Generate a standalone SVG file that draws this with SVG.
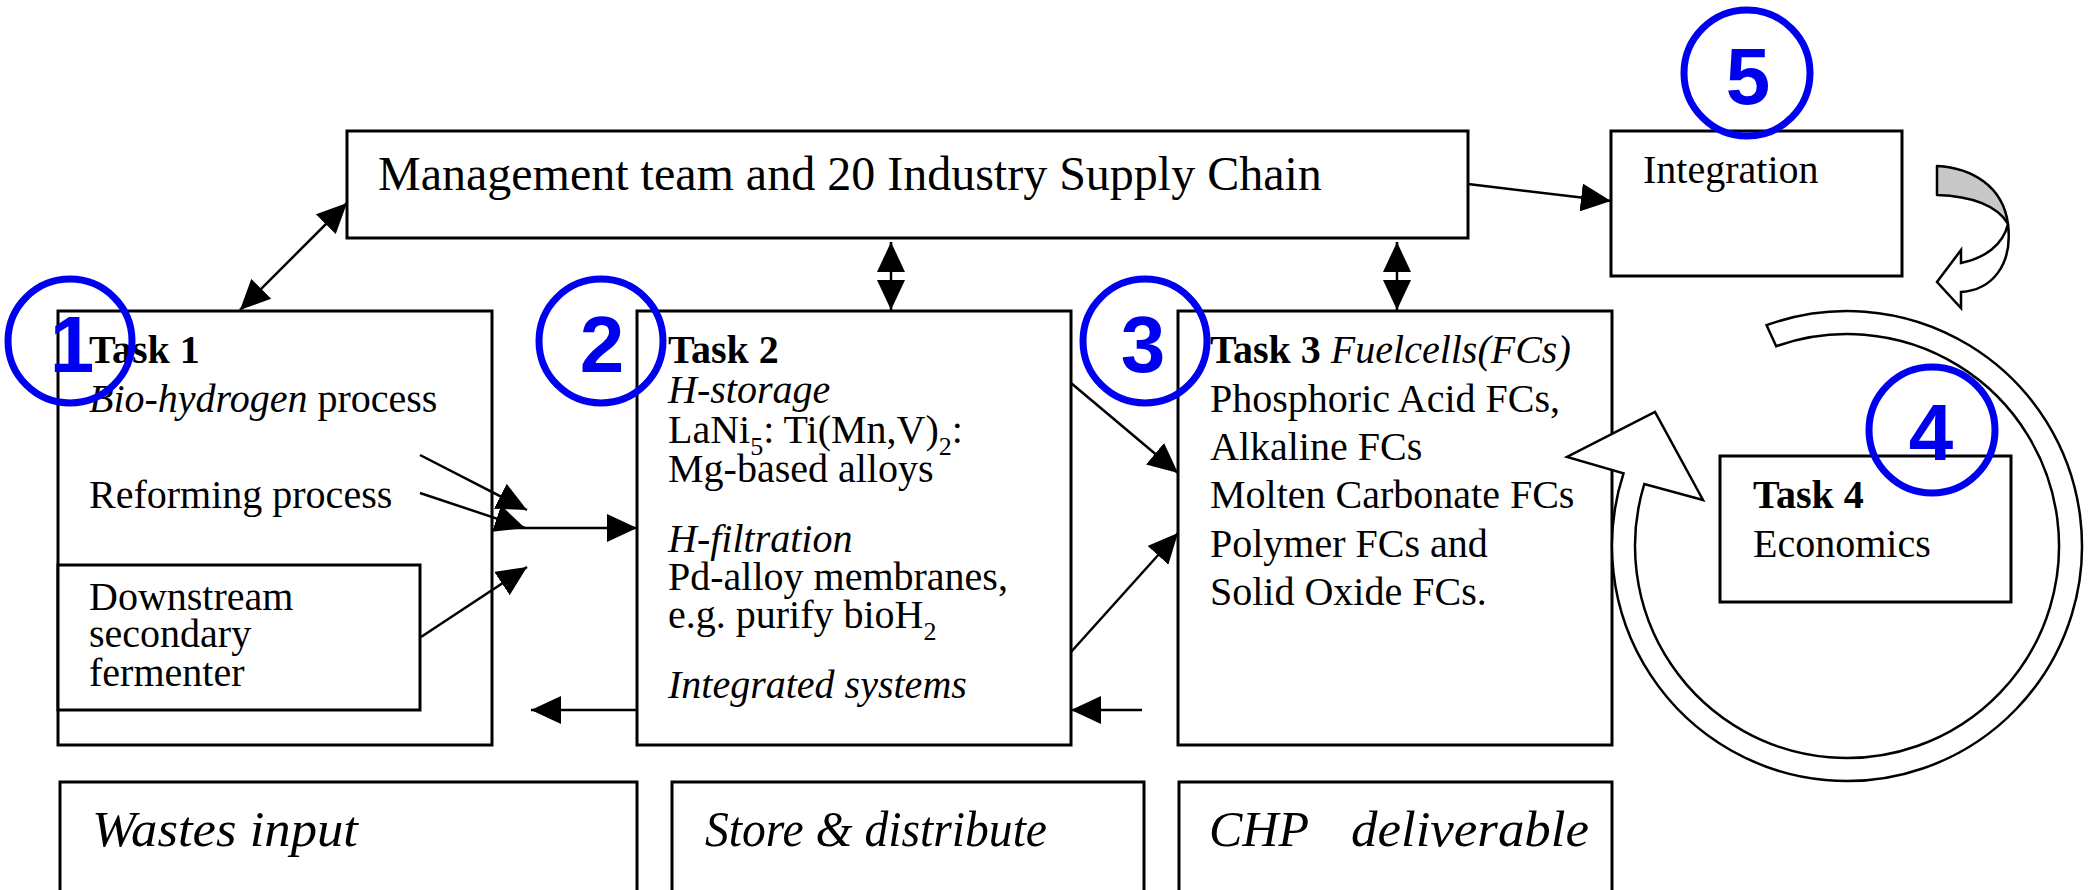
<svg xmlns="http://www.w3.org/2000/svg" width="2093" height="890" viewBox="0 0 2093 890">
  <style>
    .box { fill: #fff; stroke: #000; stroke-width: 3; }
    .ln { fill: none; stroke: #000; stroke-width: 2.5; }
    .t { font-family: "Liberation Serif", "Times New Roman", serif; font-size: 40px; fill: #000; }
    .b { font-weight: bold; }
    .i { font-style: italic; }
    .big { font-size: 48px; }
    .foot { font-size: 50px; font-style: italic; }
    .num { fill: none; stroke: #0000f0; stroke-width: 7; }
    .numt { font-family: "Liberation Sans", Arial, sans-serif; font-weight: bold; font-size: 80px; fill: #0000f0; text-anchor: middle; }
  </style>
  <defs>
    <marker id="ah" markerUnits="userSpaceOnUse" viewBox="0 0 30 28" markerWidth="30" markerHeight="28" refX="30" refY="14" orient="auto-start-reverse">
      <path d="M0,0 L30,14 L0,28 Z" fill="#000"/>
    </marker>
  </defs>

  <!-- management -->
  <g id="management">
    <rect class="box" x="347" y="131" width="1121" height="107"/>
    <text class="t big" x="378" y="190">Management team and 20 Industry Supply Chain</text>
  </g>

  <!-- integration -->
  <g id="integration">
    <rect class="box" x="1611" y="131" width="291" height="145"/>
    <text class="t" x="1643" y="183">Integration</text>
  </g>

  <!-- task 1 -->
  <g id="task1">
    <rect class="box" x="58" y="311" width="434" height="434"/>
    <text class="t b" x="89" y="363">Task 1</text>
    <text class="t" x="89" y="412"><tspan class="i">Bio-hydrogen</tspan> process</text>
    <text class="t" x="89" y="508">Reforming process</text>
  </g>
  <g id="fermenter">
    <rect class="box" x="58" y="565" width="362" height="145"/>
    <text class="t" x="89" y="610">Downstream</text>
    <text class="t" x="89" y="647">secondary</text>
    <text class="t" x="89" y="686">fermenter</text>
  </g>

  <!-- task 2 -->
  <g id="task2">
    <rect class="box" x="637" y="311" width="434" height="434"/>
    <text class="t b" x="668" y="363">Task 2</text>
    <text class="t i" x="668" y="403">H-storage</text>
    <text class="t" x="668" y="443">LaNi<tspan font-size="26" dy="12">5</tspan><tspan dy="-12">: Ti(Mn,V)</tspan><tspan font-size="26" dy="12">2</tspan><tspan dy="-12">:</tspan></text>
    <text class="t" x="668" y="482">Mg-based alloys</text>
    <text class="t i" x="668" y="552">H-filtration</text>
    <text class="t" x="668" y="590">Pd-alloy membranes,</text>
    <text class="t" x="668" y="628">e.g. purify bioH<tspan font-size="26" dy="12">2</tspan></text>
    <text class="t i" x="668" y="698">Integrated systems</text>
  </g>

  <!-- task 3 -->
  <g id="task3">
    <rect class="box" x="1178" y="311" width="434" height="434"/>
    <text class="t" x="1210" y="363"><tspan class="b">Task 3</tspan> <tspan class="i">Fuelcells(FCs)</tspan></text>
    <text class="t" x="1210" y="412">Phosphoric Acid FCs,</text>
    <text class="t" x="1210" y="460">Alkaline FCs</text>
    <text class="t" x="1210" y="508">Molten Carbonate FCs</text>
    <text class="t" x="1210" y="557">Polymer FCs and</text>
    <text class="t" x="1210" y="605">Solid Oxide FCs.</text>
  </g>

  <!-- task 4 -->
  <g id="task4">
    <rect class="box" x="1720" y="456" width="291" height="146"/>
    <text class="t b" x="1753" y="508">Task 4</text>
    <text class="t" x="1753" y="557">Economics</text>
  </g>

  <!-- bottom row -->
  <g id="wastes">
    <rect class="box" x="60" y="782" width="577" height="110"/>
    <text class="t foot" x="92" y="846" textLength="266" lengthAdjust="spacingAndGlyphs">Wastes input</text>
  </g>
  <g id="store">
    <rect class="box" x="672" y="782" width="472" height="110"/>
    <text class="t foot" x="705" y="846" textLength="342" lengthAdjust="spacingAndGlyphs">Store &amp; distribute</text>
  </g>
  <g id="chp">
    <rect class="box" x="1179" y="782" width="433" height="110"/>
    <text class="t foot" x="1209" y="846">CHP</text>
    <text class="t foot" x="1351" y="846" textLength="238" lengthAdjust="spacingAndGlyphs">deliverable</text>
  </g>

  <!-- connectors -->
  <g id="connectors">
    <line class="ln" x1="240" y1="310" x2="347" y2="203" marker-start="url(#ah)" marker-end="url(#ah)"/>
    <line class="ln" x1="891" y1="242" x2="891" y2="310" marker-start="url(#ah)" marker-end="url(#ah)"/>
    <line class="ln" x1="1397" y1="242" x2="1397" y2="310" marker-start="url(#ah)" marker-end="url(#ah)"/>
    <line class="ln" x1="1468" y1="184" x2="1611" y2="201" marker-end="url(#ah)"/>
    <line class="ln" x1="420" y1="455" x2="527" y2="510" marker-end="url(#ah)"/>
    <line class="ln" x1="420" y1="493" x2="525" y2="528" marker-end="url(#ah)"/>
    <line class="ln" x1="421" y1="637" x2="527" y2="567" marker-end="url(#ah)"/>
    <line class="ln" x1="496" y1="528" x2="637" y2="528" marker-end="url(#ah)"/>
    <line class="ln" x1="637" y1="710" x2="531" y2="710" marker-end="url(#ah)"/>
    <line class="ln" x1="1071" y1="383" x2="1178" y2="473" marker-end="url(#ah)"/>
    <line class="ln" x1="1071" y1="652" x2="1178" y2="533" marker-end="url(#ah)"/>
    <line class="ln" x1="1142" y1="710" x2="1071" y2="710" marker-end="url(#ah)"/>
  </g>

  <!-- curled ribbon arrow under Integration -->
  <g id="curl">
    <path d="M1937,166 C1972,168 2003,186 2008,224 C1998,206 1972,196 1937,195 Z" fill="#c8c8c8" stroke="#000" stroke-width="2.5" stroke-linejoin="round"/>
    <path d="M2008,224 C2003,245 1985,258 1961,263 L1961,250 L1937,282 L1961,308 L1961,292 C1992,290 2013,265 2008,224 Z" fill="#fff" stroke="#000" stroke-width="2.5" stroke-linejoin="miter"/>
  </g>

  <!-- circular block arrow around Task 4 -->
  <g id="cycle">
    <path d="M1766.6,325.2 A235,235 0 1 1 1623.5,473.4 L1567,457 L1655,412 L1703,500 L1644.3,484 A212,212 0 1 0 1776.2,346.2 Z" fill="#fff" stroke="#000" stroke-width="2.5" stroke-linejoin="miter"/>
  </g>

  <!-- numbered markers -->
  <g id="n1"><circle class="num" cx="70" cy="341" r="62"/><text class="numt" x="72" y="372">1</text></g>
  <g id="n2"><circle class="num" cx="601" cy="341" r="62"/><text class="numt" x="602" y="372">2</text></g>
  <g id="n3"><circle class="num" cx="1145" cy="341" r="62"/><text class="numt" x="1143" y="372">3</text></g>
  <g id="n4"><circle class="num" cx="1932" cy="430" r="63"/><text class="numt" x="1931" y="460">4</text></g>
  <g id="n5"><circle class="num" cx="1747" cy="73" r="63"/><text class="numt" x="1748" y="104">5</text></g>
</svg>
